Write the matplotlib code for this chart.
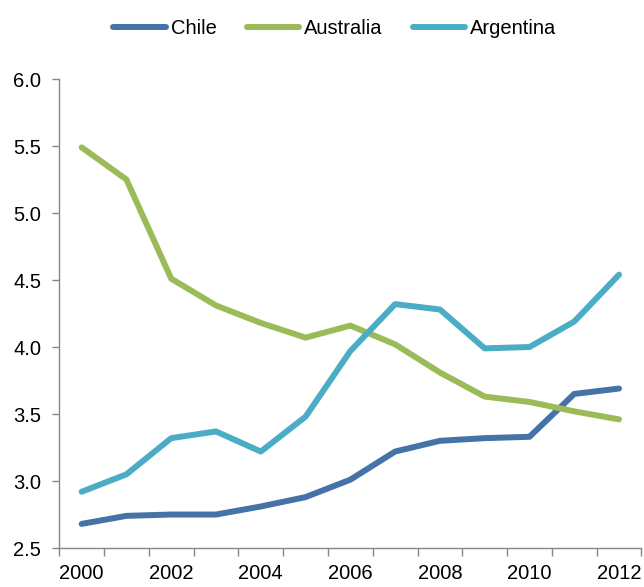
import matplotlib
matplotlib.use("Agg")
import matplotlib.pyplot as plt
import numpy as np

years = [2000, 2001, 2002, 2003, 2004, 2005, 2006, 2007, 2008, 2009, 2010, 2011, 2012]
chile = [2.68, 2.74, 2.75, 2.75, 2.81, 2.88, 3.01, 3.22, 3.30, 3.32, 3.33, 3.65, 3.69]
australia = [5.49, 5.25, 4.51, 4.31, 4.18, 4.07, 4.16, 4.02, 3.81, 3.63, 3.59, 3.52, 3.46]
argentina = [2.92, 3.05, 3.32, 3.37, 3.22, 3.48, 3.97, 4.32, 4.28, 3.99, 4.00, 4.19, 4.54]
y_ticks = [2.5, 3.0, 3.5, 4.0, 4.5, 5.0, 5.5, 6.0]

plt.rcParams['font.family'] = ['Liberation Sans', 'DejaVu Sans']

fig = plt.figure(figsize=(6.44, 5.87), dpi=100)
ax = fig.add_axes([0.092, 0.0664, 0.904, 0.799])

x = np.arange(len(years))
series = [("Chile", chile, "#4572A7"),
          ("Australia", australia, "#9BBB59"),
          ("Argentina", argentina, "#4BACC6")]
for name, vals, col in series:
    ax.plot(x, vals, color=col, lw=4.3, solid_capstyle='round',
            solid_joinstyle='round', label=name)

axis_col = "#868686"
ax.set_xlim(-0.5, len(years) - 0.5)
ax.set_ylim(2.5, 6.0)
ax.set_yticks(y_ticks)
ax.set_yticklabels([f"{v:.1f}" for v in y_ticks])
ax.set_xticks(x[::2])
ax.set_xticklabels([str(y) for y in years[::2]])
ax.set_xticks(np.arange(-0.5, len(years), 1.0), minor=True)
ax.tick_params(axis='x', which='major', length=0, pad=11.5, labelsize=14.5)
ax.tick_params(axis='x', which='minor', length=6, color=axis_col, width=1, direction='out')
ax.tick_params(axis='y', length=5, color=axis_col, width=1, direction='out', pad=8, labelsize=14.5)

for side in ['top', 'right']:
    ax.spines[side].set_visible(False)
for side in ['left', 'bottom']:
    ax.spines[side].set_color(axis_col)
    ax.spines[side].set_linewidth(1)

leg = fig.legend(loc='upper center', bbox_to_anchor=(0.52, 0.998), ncol=3,
                 frameon=False, fontsize=14.5, handlelength=2.6, handletextpad=0.25,
                 columnspacing=1.5)
for line in leg.get_lines():
    line.set_linewidth(4.3)

fig.savefig("out.png", dpi=100)
